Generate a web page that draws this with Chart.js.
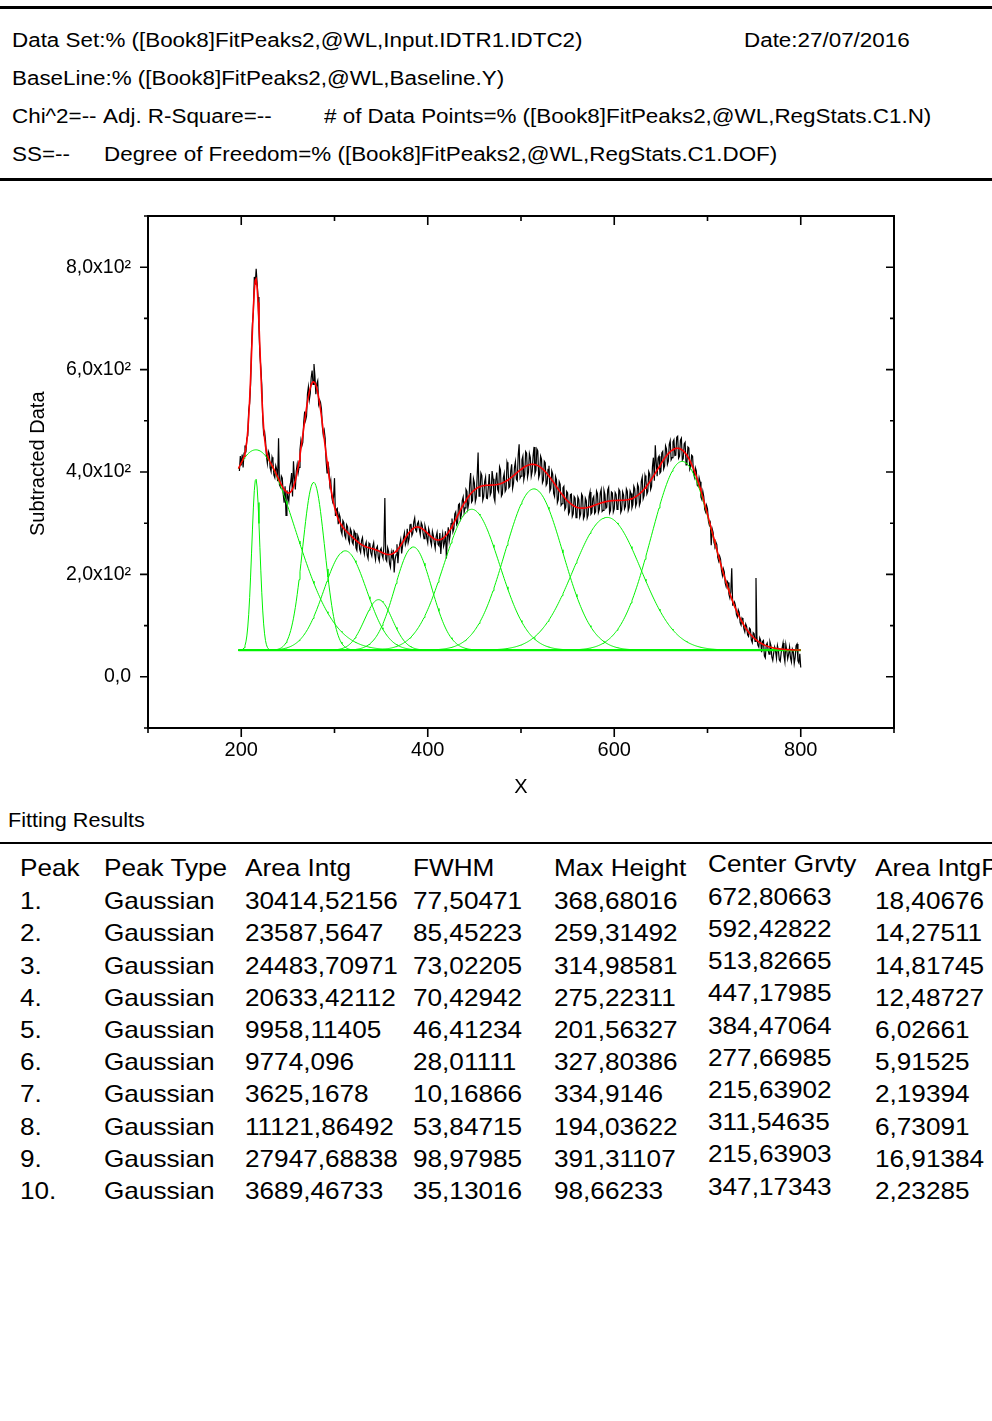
<!DOCTYPE html>
<html>
<head>
<meta charset="utf-8">
<script src="https://cdn.jsdelivr.net/npm/chart.js@4.4.1/dist/chart.umd.min.js"></script>
<style>
  html, body { margin: 0; padding: 0; background: #fff; }
  body { width: 992px; height: 1421px; position: relative; overflow: hidden;
         font-family: "Liberation Sans", Arial, Helvetica, sans-serif; color: #000; }
  .t { position: absolute; white-space: pre; line-height: 1; transform-origin: 0 50%; }
  .rule { position: absolute; left: 0; width: 992px; background: #000; }
  #plot { position: absolute; left: 0; top: 196px; }
  #ytitle { position: absolute; white-space: pre; font-size: 20px; line-height: 1;
            transform-origin: 0 0; }
</style>
</head>
<body>
<div class="rule" style="top:6px;height:3px"></div>
<div class="rule" style="top:178px;height:3px"></div>
<div class="rule" style="top:842px;height:2px"></div>
<canvas id="plot" width="992" height="604"></canvas>
<div id="ytitle">Subtracted Data</div>

<script>
// Measured spectrum after baseline subtraction, one value per unit of X
const xStart = 198;
const xStep = 1;
const subtractedData = [
  402, 431, 413, 434, 409, 437, 452, 438, 465, 471,
  521, 534, 571, 642, 690, 713, 781, 766, 797, 770,
  742, 681, 628, 604, 571, 509, 474, 479, 462, 431,
  417, 441, 436, 408, 401, 429, 422, 394, 389, 412,
  405, 382, 466, 375, 371, 392, 388, 357, 340, 372,
  315, 364, 352, 343, 371, 380, 398, 352, 421, 389,
  366, 402, 415, 398, 409, 444, 462, 451, 458, 497,
  518, 501, 509, 552, 566, 541, 553, 584, 598, 571,
  611, 588, 552, 572, 578, 533, 541, 536, 523, 488,
  472, 481, 466, 422, 398, 419, 406, 374, 384, 352,
  342, 351, 388, 314, 327, 329, 298, 318, 312, 285,
  279, 305, 301, 276, 271, 297, 293, 268, 262, 289,
  284, 263, 259, 285, 281, 252, 247, 276, 270, 249,
  243, 266, 272, 251, 240, 257, 263, 238, 231, 261,
  258, 242, 236, 255, 262, 240, 229, 251, 255, 233,
  226, 247, 251, 238, 232, 256, 349, 230, 226, 252,
  245, 221, 214, 243, 233, 248, 204, 229, 238, 259,
  222, 246, 259, 268, 241, 255, 272, 281, 258, 264,
  289, 262, 270, 297, 299, 276, 281, 302, 310, 287,
  284, 299, 303, 288, 278, 301, 296, 281, 270, 295,
  287, 271, 262, 289, 281, 265, 257, 284, 276, 262,
  251, 274, 282, 259, 256, 281, 240, 266, 279, 255,
  262, 284, 231, 271, 292, 265, 276, 299, 309, 283,
  289, 318, 322, 297, 301, 336, 338, 309, 316, 344,
  351, 321, 330, 366, 362, 329, 339, 378, 398, 341,
  344, 387, 379, 342, 350, 392, 438, 353, 361, 398,
  393, 345, 352, 381, 390, 349, 348, 372, 396, 355,
  360, 402, 387, 351, 343, 384, 399, 366, 361, 410,
  404, 353, 357, 388, 397, 362, 366, 419, 411, 369,
  372, 402, 415, 368, 378, 409, 420, 386, 383, 433,
  454, 388, 392, 424, 431, 385, 395, 440, 437, 390,
  399, 436, 428, 392, 401, 432, 449, 397, 403, 445,
  441, 389, 396, 431, 425, 379, 384, 421, 418, 374,
  378, 405, 412, 363, 368, 402, 396, 358, 352, 391,
  385, 340, 346, 381, 376, 335, 338, 369, 372, 327,
  331, 362, 359, 318, 322, 356, 357, 313, 318, 352,
  349, 311, 315, 351, 346, 312, 318, 357, 353, 309,
  314, 349, 344, 310, 316, 352, 361, 318, 321, 348,
  352, 319, 322, 363, 358, 321, 327, 359, 366, 323,
  325, 364, 356, 329, 331, 365, 370, 320, 325, 361,
  359, 322, 328, 360, 356, 327, 331, 366, 362, 321,
  326, 361, 355, 328, 333, 367, 362, 325, 331, 363,
  358, 330, 336, 372, 367, 333, 339, 376, 371, 335,
  341, 382, 390, 348, 354, 393, 385, 357, 362, 401,
  396, 366, 372, 411, 428, 383, 452, 419, 392, 427,
  431, 398, 401, 437, 440, 406, 412, 451, 445, 415,
  421, 454, 461, 424, 428, 459, 463, 432, 433, 468,
  470, 427, 431, 462, 466, 423, 426, 455, 458, 414,
  419, 449, 447, 405, 410, 433, 431, 398, 390, 408,
  402, 374, 372, 389, 381, 351, 346, 362, 352, 327,
  322, 335, 328, 304, 296, 301, 257, 289, 282, 262,
  256, 263, 258, 233, 226, 236, 230, 208, 198, 211,
  205, 183, 176, 187, 184, 161, 154, 166, 212, 140,
  141, 146, 139, 122, 117, 131, 126, 106, 101, 115,
  112, 94, 88, 103, 98, 82, 79, 95, 93, 72,
  67, 86, 84, 69, 193, 76, 62, 58, 76, 71,
  48, 69, 71, 41, 37, 62, 66, 53, 44, 68,
  61, 39, 32, 47, 58, 50, 36, 61, 52, 33,
  30, 47, 56, 66, 41, 29, 63, 51, 35, 44,
  58, 37, 29, 54, 49, 26, 38, 61, 64, 31,
  27, 45, 18
];

// Fitted peak parameters (Fitting Results table)
const peakType   = ['Gaussian', 'Gaussian', 'Gaussian', 'Gaussian', 'Gaussian',
                    'Gaussian', 'Gaussian', 'Gaussian', 'Gaussian', 'Gaussian'];
const peakArea   = [30414.52156, 23587.5647, 24483.70971, 20633.42112, 9958.11405,
                    9774.096, 3625.1678, 11121.86492, 27947.68838, 3689.46733];
const peakFWHM   = [77.50471, 85.45223, 73.02205, 70.42942, 46.41234,
                    28.01111, 10.16866, 53.84715, 98.97985, 35.13016];
const peakHeight = [368.68016, 259.31492, 314.98581, 275.22311, 201.56327,
                    327.80386, 334.9146, 194.03622, 391.31107, 98.66233];
const peakCenter = [672.80663, 592.42822, 513.82665, 447.17985, 384.47064,
                    277.66985, 215.63902, 311.54635, 215.63903, 347.17343];
const peakAreaPct = [18.40676, 14.27511, 14.81745, 12.48727, 6.02661,
                     5.91525, 2.19394, 6.73091, 16.91384, 2.23285];

const baselineLevel = 52;
const fitFrom = 197, fitTo = 800;

// Axis labelling
const xTickLabels = [200, 400, 600, 800];
const yTickLabels = [0, 200, 400, 600, 800];

// ---------- text blocks ----------
function put(txt, x, cy, size, sx) {
  const d = document.createElement('div');
  d.className = 't';
  d.textContent = txt;
  d.style.left = x + 'px';
  d.style.top = (cy - 0.4885 * size) + 'px';
  d.style.fontSize = size + 'px';
  d.style.transform = 'scaleX(' + sx + ')';
  document.body.appendChild(d);
}
const HS = 20, HX = 1.12;
put('Data Set:% ([Book8]FitPeaks2,@WL,Input.IDTR1.IDTC2)', 12, 40, HS, HX);
put('Date:27/07/2016', 744, 40, HS, HX);
put('BaseLine:% ([Book8]FitPeaks2,@WL,Baseline.Y)', 12, 78, HS, HX);
put('Chi^2=--', 12, 116, HS, HX);
put('Adj. R-Square=--', 103, 116, HS, HX);
put('# of Data Points=% ([Book8]FitPeaks2,@WL,RegStats.C1.N)', 324, 116, HS, HX);
put('SS=--', 12, 154, HS, HX);
put('Degree of Freedom=% ([Book8]FitPeaks2,@WL,RegStats.C1.DOF)', 104, 154, HS, HX);

put('Fitting Results', 8, 820, 20, 1.08);

const TS = 24, TX = 1.09;
const colX = [20, 104, 245, 413, 554, 708, 875];
const headers = ['Peak', 'Peak Type', 'Area Intg', 'FWHM', 'Max Height', 'Center Grvty', 'Area IntgP'];
const fmt = v => String(v).replace('.', ',');
headers.forEach((h, c) => put(h, colX[c], c === 5 ? 864 : 868, TS, TX));
for (let i = 0; i < peakType.length; i++) {
  const cy = 901 + i * 32.2;
  const cells = [(i + 1) + '.', peakType[i], fmt(peakArea[i]), fmt(peakFWHM[i]),
                 fmt(peakHeight[i]), fmt(peakCenter[i]), fmt(peakAreaPct[i])];
  cells.forEach((s, c) => put(s, colX[c], c === 5 ? cy - 4.5 : cy, TS, TX));
}

// rotated y-axis title
const yt = document.getElementById('ytitle');
yt.style.left = '27px';
yt.style.top = '536px';
yt.style.transform = 'rotate(-90deg)';

// ---------- chart series ----------
const measured = subtractedData.map((v, i) => ({ x: xStart + i * xStep, y: v }));

const K = 4 * Math.LN2;
function gauss(k, x) {
  const d = (x - peakCenter[k]) / peakFWHM[k];
  return peakHeight[k] * Math.exp(-K * d * d);
}
const xs = [];
for (let x = fitFrom; x <= fitTo; x += 1) xs.push(x);

const GREEN = '#00f200';
const peakSets = peakCenter.map((_, k) => ({
  data: xs.map(x => ({ x, y: baselineLevel + gauss(k, x) })),
  borderColor: GREEN, borderWidth: 1, pointRadius: 0, order: 1
}));
const cumulative = xs.map(x => {
  let s = baselineLevel;
  for (let k = 0; k < peakCenter.length; k++) s += gauss(k, x);
  return { x, y: s };
});

const frameTicks = {
  id: 'frameTicks',
  afterDraw(chart) {
    const { ctx, chartArea: a, scales: { x, y } } = chart;
    ctx.save();
    ctx.strokeStyle = '#000';
    ctx.lineWidth = 2;
    ctx.strokeRect(a.left, a.top, a.right - a.left, a.bottom - a.top);
    ctx.lineWidth = 1.6;
    ctx.beginPath();
    y.ticks.forEach(t => {
      const p = y.getPixelForValue(t.value);
      const L = t.value % 200 === 0 ? 8 : 4;
      ctx.moveTo(a.left - L, p); ctx.lineTo(a.left, p);
      ctx.moveTo(a.right, p); ctx.lineTo(a.right - L, p);
    });
    x.ticks.forEach(t => {
      const p = x.getPixelForValue(t.value);
      const L = t.value % 200 === 0 ? 9 : 5;
      ctx.moveTo(p, a.bottom); ctx.lineTo(p, a.bottom + L);
      ctx.moveTo(p, a.top); ctx.lineTo(p, a.top + L);
    });
    ctx.stroke();
    ctx.restore();
  }
};

const FONT = '"Liberation Sans", Arial, Helvetica, sans-serif';

new Chart(document.getElementById('plot'), {
  type: 'line',
  data: {
    datasets: [
      { data: cumulative, borderColor: '#ff0000', borderWidth: 1.6, pointRadius: 0, order: 0 },
      { data: [{ x: fitFrom, y: baselineLevel }, { x: fitTo, y: baselineLevel }],
        borderColor: GREEN, borderWidth: 2, pointRadius: 0, order: 1 },
      ...peakSets,
      { data: measured, borderColor: '#000', borderWidth: 1.2, pointRadius: 0, order: 2 }
    ]
  },
  options: {
    responsive: false,
    animation: false,
    devicePixelRatio: 1,
    layout: { padding: { left: 0, right: 98, top: 20, bottom: 0 } },
    plugins: { legend: { display: false }, tooltip: { enabled: false } },
    elements: { line: { tension: 0 } },
    scales: {
      x: {
        type: 'linear', min: 100, max: 900,
        grid: { display: false, drawTicks: false },
        border: { display: false },
        ticks: {
          stepSize: 100, autoSkip: false, maxRotation: 0, padding: 10,
          color: '#000', font: { family: FONT, size: 20 },
          callback: v => xTickLabels.includes(v) ? String(v) : ''
        },
        title: { display: true, text: 'X', color: '#000',
                 font: { family: FONT, size: 20 }, padding: { top: 0, bottom: 1 } },
        afterFit: s => { s.height = 72; s.paddingLeft = 0; s.paddingRight = 0; }
      },
      y: {
        type: 'linear', min: -100, max: 900,
        grid: { display: false, drawTicks: false },
        border: { display: false },
        ticks: {
          stepSize: 100, autoSkip: false, padding: 17,
          color: '#000', font: { family: FONT, size: 19.5 },
          callback: v => yTickLabels.includes(v)
            ? (v === 0 ? '0,0' : (v / 100).toFixed(1).replace('.', ',') + 'x10\u00B2') : ''
        },
        afterFit: s => { s.width = 148; s.paddingTop = 0; s.paddingBottom = 0; }
      }
    }
  },
  plugins: [frameTicks]
});
</script>
</body>
</html>
